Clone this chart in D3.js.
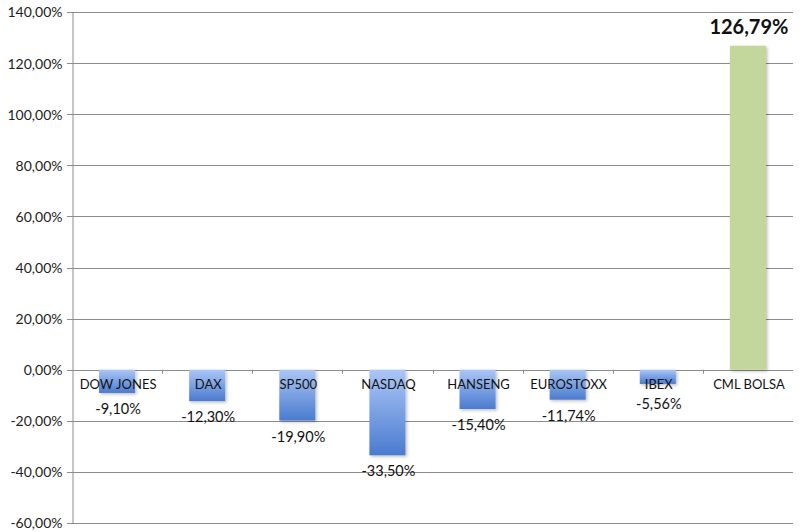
<!DOCTYPE html>
<html>
<head>
<meta charset="utf-8">
<script src="https://cdn.jsdelivr.net/npm/d3@7"></script>
<style>
body{margin:0;background:#fff;}
svg{display:block;}
</style>
</head>
<body>
<svg id="chart" width="800" height="532"></svg>
<script>
const categories = ["DOW JONES","DAX","SP500","NASDAQ","HANSENG","EUROSTOXX","IBEX","CML BOLSA"];
const values = [-9.10,-12.30,-19.90,-33.50,-15.40,-11.74,-5.56,126.79];
const yTicks = [-60,-40,-20,0,20,40,60,80,100,120,140];

const svg = d3.select("#chart");
const margin = {left:72, right:7, top:12, bottom:9};
const W = 800, H = 532;
const fmt = v => d3.format(".2f")(v).replace(".", ",").replace("\u2212", "-") + "%";

const x = d3.scaleBand().domain(categories).range([margin.left, W - margin.right]).paddingInner(0.6).paddingOuter(0.3);
const band = d3.scaleBand().domain(categories).range([margin.left, W - margin.right]);
const y = d3.scaleLinear().domain([-60,140]).range([H - margin.bottom, margin.top]);

const defs = svg.append("defs");
const g1 = defs.append("linearGradient").attr("id","blueGrad").attr("x1",0).attr("y1",0).attr("x2",0).attr("y2",1);
g1.append("stop").attr("offset","0%").attr("stop-color","#abc6f6");
g1.append("stop").attr("offset","100%").attr("stop-color","#4a7bcf");
const f = defs.append("filter").attr("id","shadow").attr("x","-20%").attr("y","-20%").attr("width","150%").attr("height","150%");
f.append("feDropShadow").attr("dx",1.5).attr("dy",1.5).attr("stdDeviation",1.5).attr("flood-color","#000").attr("flood-opacity",0.25);

// gridlines
svg.append("g").selectAll("line").data(yTicks).join("line")
  .attr("x1", margin.left - 5).attr("x2", W - margin.right)
  .attr("y1", d => Math.round(y(d)) + 0.5).attr("y2", d => Math.round(y(d)) + 0.5)
  .attr("stroke", "#8c8c8c").attr("stroke-width", 1);

// y axis
const yAxis = d3.axisLeft(y).tickValues(yTicks).tickSize(0).tickPadding(10).tickFormat(fmt);
const ya = svg.append("g").attr("transform", `translate(${margin.left + 0.5},0.5)`).call(yAxis);
ya.select(".domain").attr("stroke","#8c8c8c");
ya.selectAll("text").attr("font-family","Lato, 'Open Sans', sans-serif").attr("font-size",14).attr("fill","#222");

// category ticks on zero line
svg.append("g").selectAll("line").data(categories.slice(1)).join("line")
  .attr("x1", d => Math.round(band(d)) + 0.5).attr("x2", d => Math.round(band(d)) + 0.5)
  .attr("y1", y(0)).attr("y2", y(0) + 4)
  .attr("stroke", "#8c8c8c");

// bars
svg.append("g").selectAll("rect").data(values).join("rect")
  .attr("x", (d,i) => x(categories[i]))
  .attr("width", x.bandwidth())
  .attr("y", d => y(Math.max(0,d)))
  .attr("height", d => Math.abs(y(d) - y(0)))
  .attr("fill", d => d < 0 ? "url(#blueGrad)" : "#c3d69b")
  .attr("filter","url(#shadow)");

// category labels
svg.append("g").selectAll("text").data(categories).join("text")
  .attr("x", d => band(d) + band.bandwidth()/2 + 1)
  .attr("y", y(0) + 19)
  .attr("text-anchor","middle")
  .attr("font-family","Lato, 'Open Sans', sans-serif")
  .attr("font-size",13)
  .attr("fill","#111")
  .text(d => d);

// value labels
svg.append("g").selectAll("text").data(values).join("text")
  .attr("x", (d,i) => band(categories[i]) + band.bandwidth()/2 + 1)
  .attr("y", d => {
    if (d >= 0) return y(d) - 12;
    let c = y(d) + 16;
    if (c < 415) c = Math.min(Math.max(c, 404), 410);
    return c + 5;
  })
  .attr("text-anchor","middle")
  .attr("font-family","Lato, 'Open Sans', sans-serif")
  .attr("font-size", d => d >= 0 ? 20 : 14.5)
  .attr("font-weight", d => d >= 0 ? "bold" : "normal")
  .attr("fill","#111")
  .text(d => fmt(d));
</script>
</body>
</html>
